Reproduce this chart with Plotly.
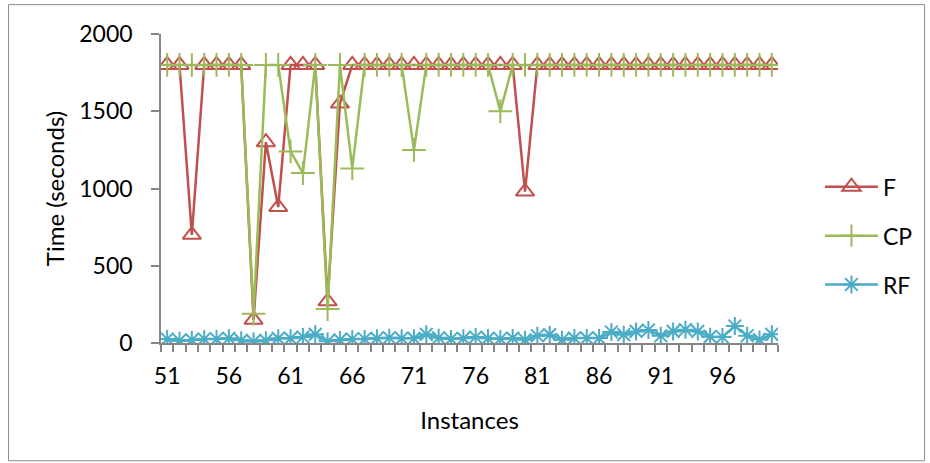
import plotly.graph_objects as go

instances = list(range(51, 101))

f_values = [1800, 1800, 700, 1800, 1800, 1800, 1800, 150, 1300, 880,
            1800, 1800, 1800, 270, 1550, 1800, 1800, 1800, 1800, 1800,
            1800, 1800, 1800, 1800, 1800, 1800, 1800, 1800, 1800, 980,
            1800, 1800, 1800, 1800, 1800, 1800, 1800, 1800, 1800, 1800,
            1800, 1800, 1800, 1800, 1800, 1800, 1800, 1800, 1800, 1800]

cp_values = [1800, 1800, 1800, 1800, 1800, 1800, 1800, 190, 1800, 1800,
             1240, 1100, 1800, 220, 1800, 1130, 1800, 1800, 1800, 1800,
             1250, 1800, 1800, 1800, 1800, 1800, 1800, 1500, 1800, 1800,
             1800, 1800, 1800, 1800, 1800, 1800, 1800, 1800, 1800, 1800,
             1800, 1800, 1800, 1800, 1800, 1800, 1800, 1800, 1800, 1800]

rf_values = [26, 15, 20, 26, 26, 30, 17, 9, 17, 30,
             30, 39, 56, 11, 20, 26, 26, 30, 34, 30,
             30, 56, 34, 26, 30, 39, 30, 26, 32, 21,
             47, 54, 21, 32, 32, 32, 71, 54, 75, 84,
             47, 75, 86, 75, 41, 39, 110, 47, 22, 56]

tick_vals = [51, 56, 61, 66, 71, 76, 81, 86, 91, 96]
tick_text = [str(v) for v in tick_vals]

FONT = "Lato"
RED = "#C0504D"
GREEN = "#9BBB59"
BLUE = "#4BACC6"
AXIS = "#868686"

fig = go.Figure()
fig.add_trace(go.Scatter(
    x=instances, y=f_values, name="F", mode="lines+markers",
    line=dict(color=RED, width=2.5),
    marker=dict(symbol="triangle-up-open", size=16, color=RED, line=dict(color=RED, width=2)),
    legendgroup="F"))
fig.add_trace(go.Scatter(
    x=instances, y=cp_values, name="CP", mode="lines+markers",
    line=dict(color=GREEN, width=2.5),
    marker=dict(symbol="cross-thin-open", size=17, color=GREEN, line=dict(color=GREEN, width=2)),
    legendgroup="CP"))
fig.add_trace(go.Scatter(
    x=instances, y=rf_values, name="RF", mode="lines+markers",
    line=dict(color=BLUE, width=2.5),
    marker=dict(symbol="asterisk-open", size=15, color=BLUE, line=dict(color=BLUE, width=2)),
    legendgroup="RF"))

fig.update_layout(
    width=930, height=463,
    margin=dict(l=161, r=150, t=34, b=120),
    paper_bgcolor="white", plot_bgcolor="white",
    font=dict(family=FONT, size=23, color="#000000"),
    showlegend=True,
    legend=dict(x=1.068, y=0.347, xanchor="left", yanchor="middle",
                font=dict(family=FONT, size=23), tracegroupgap=16,
                itemwidth=53,
                bgcolor="rgba(0,0,0,0)"),
    xaxis=dict(
        range=[50.5, 100.5], tickmode="array", tickvals=tick_vals, ticktext=tick_text,
        ticks="outside", ticklen=12, tickcolor="rgba(0,0,0,0)",
        minor=dict(tick0=50.5, dtick=1, ticks="outside", ticklen=7, tickcolor=AXIS, tickwidth=1.5),
        showline=True, linecolor=AXIS, linewidth=1.5, showgrid=False, zeroline=False,
        title=dict(text="Instances", standoff=24, font=dict(family=FONT, size=24)),
    ),
    yaxis=dict(
        range=[0, 2000], tickmode="array", tickvals=[0, 500, 1000, 1500, 2000],
        ticks="outside", ticklen=8, tickcolor=AXIS, tickwidth=1.5,
        ticklabelstandoff=14,
        showline=True, linecolor=AXIS, linewidth=1.5, showgrid=False, zeroline=False,
        title=dict(text="Time (seconds)", standoff=8, font=dict(family=FONT, size=24)),
    ),
    shapes=[dict(type="rect", xref="paper", yref="paper",
                 x0=-0.2472, x1=1.2375, y0=-0.381, y1=1.095,
                 line=dict(color="#8C8C8C", width=1), fillcolor="rgba(0,0,0,0)", layer="below")],
)

fig.write_html("out.html", config={"displayModeBar": False},
               post_script="document.body.style.margin='0';document.body.style.overflow='hidden';")
